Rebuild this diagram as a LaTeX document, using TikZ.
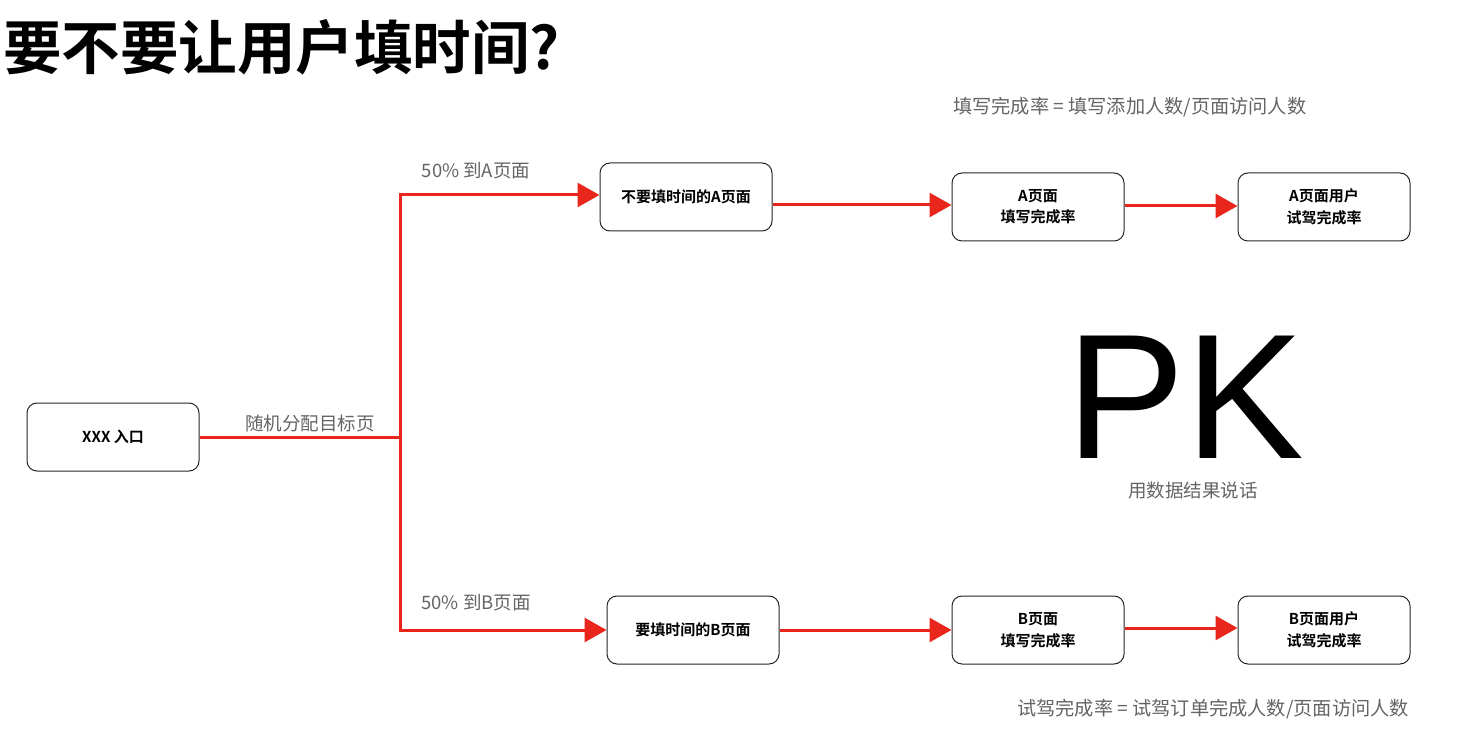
\documentclass[tikz,border=0pt]{standalone}
\usepackage{fontspec}
\setmainfont{Noto Sans CJK SC}
\newfontfamily\cjk{Noto Sans CJK SC}
\newfontfamily\cjkb{Noto Sans CJK SC Bold}
\usetikzlibrary{arrows.meta}
\definecolor{redline}{RGB}{232,38,28}
\definecolor{labelgray}{RGB}{100,100,100}
\tikzset{
  box/.style={draw=black!85, line width=1pt, rounded corners=10pt, minimum width=172pt, minimum height=68pt, align=center, font=\cjkb\fontsize{15}{21.5}\selectfont, inner sep=0pt},
  flow/.style={draw=redline, line width=3pt},
  flowarrow/.style={flow, -{Triangle[length=22pt,width=24pt]}},
  lbl/.style={text=labelgray, font=\cjk\fontsize{18.5}{20}\selectfont, inner sep=0pt},
  formula/.style={lbl, font=\cjk\fontsize{19.2}{20}\selectfont},
}
\begin{document}
\begin{tikzpicture}[x=1pt,y=-1pt]
\useasboundingbox (0,0) rectangle (1483,751);
\node[anchor=west, inner sep=0pt, font=\cjkb\fontsize{58.5}{62}\selectfont] (title) at (3,47) {要不要让用户填时间?};
\node[box] (entry) at (113,437) {XXX 入口};
\node[box] (a1) at (686,197) {不要填时间的A页面};
\node[box] (a2) at (1038,207) {A页面\\填写完成率};
\node[box] (a3) at (1324,207) {A页面用户\\试驾完成率};
\node[box] (b1) at (693,630) {要填时间的B页面};
\node[box] (b2) at (1038,630) {B页面\\填写完成率};
\node[box] (b3) at (1324,630) {B页面用户\\试驾完成率};
\coordinate (split) at (400,437);
\coordinate (topc) at (400,195);
\coordinate (botc) at (400,630);
\draw[flow] (entry.east) -- (split);
\draw[flow, line cap=rect] (topc) -- (botc);
\draw[flowarrow] (topc) -- (a1.west |- topc);
\draw[flowarrow] (botc) -- (b1.west);
\draw[flowarrow] (a1.east |- 0,205) -- (a2.west |- 0,205);
\draw[flowarrow] (a2.east |- 0,206) -- (a3.west |- 0,206);
\draw[flowarrow] (b1.east) -- (b2.west);
\draw[flowarrow] (b2.east |- 0,628) -- (b3.west |- 0,628);
\node[lbl] (lrand) at (310,423) {随机分配目标页};
\node[lbl] (lA) at (476,171) {50\% 到A页面};
\node[lbl] (lB) at (476,603) {50\% 到B页面};
\node[formula, anchor=west] (fa) at (953,107) {填写完成率 = 填写添加人数/页面访问人数};
\node[formula, anchor=east] (fb) at (1409,709) {试驾完成率 = 试驾订单完成人数/页面访问人数};
\node[inner sep=0pt, text depth=0pt, font={\fontspec{Liberation Sans}\fontsize{178}{180}\selectfont}] (pk) at (1185,397) {PK};
\node[lbl] (pksub) at (1193,491) {用数据结果说话};
\end{tikzpicture}
\end{document}
